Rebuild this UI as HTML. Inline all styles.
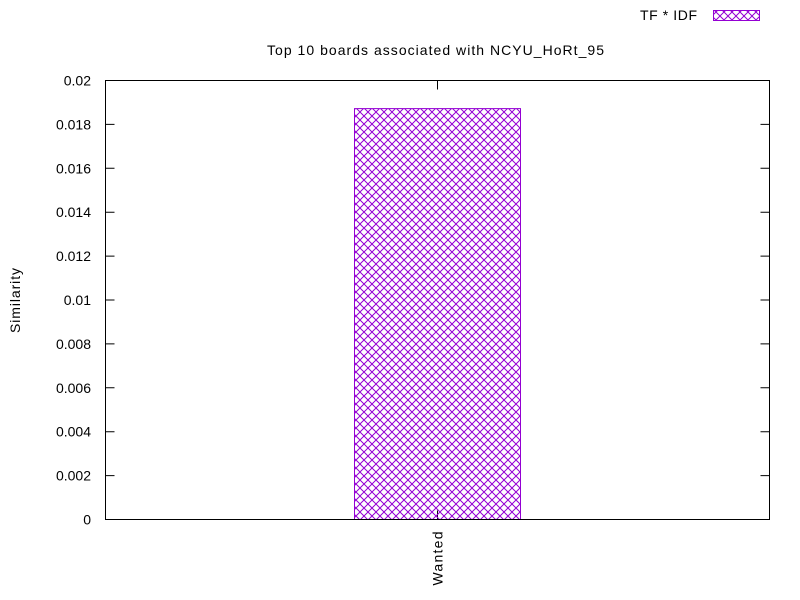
<!DOCTYPE html>
<html><head><meta charset="utf-8"><style>
body{margin:0;background:#fff}
svg{display:block;font-family:"Liberation Sans",sans-serif;font-size:14px}
</style></head><body>
<svg id="chart" width="800" height="600">
<defs>
<pattern id="hatch" width="8" height="8" patternUnits="userSpaceOnUse">
<path d="M0,0 L8,8 M8,0 L0,8" stroke="#9400d3" stroke-width="1" fill="none"/>
</pattern>
</defs>
<text x="267" y="55" textLength="337" lengthAdjust="spacing">Top 10 boards associated with NCYU_HoRt_95</text>
<text transform="translate(20,333) rotate(-90)" textLength="65" lengthAdjust="spacing">Similarity</text>
<text x="640" y="20" textLength="57" lengthAdjust="spacing">TF * IDF</text>
<rect x="713.5" y="10.5" width="46" height="10" fill="url(#hatch)" stroke="#9400d3"/>
<g id="axes"></g>
<g id="bars"></g>
<rect x="105.5" y="80.5" width="664" height="439" fill="none" stroke="#000"/>
</svg>
<script>
const categories = ["Wanted"];
const values = [0.01872];
const yTicks = [0, 0.002, 0.004, 0.006, 0.008, 0.01, 0.012, 0.014, 0.016, 0.018, 0.02];
const yTickLabels = ["0","0.002","0.004","0.006","0.008","0.01","0.012","0.014","0.016","0.018","0.02"];

const NS = "http://www.w3.org/2000/svg";
const L = 105.5, R = 769.5, T = 80.5, B = 519.5;
const yMax = 0.02;
function y(v){ return B - v / yMax * (B - T); }
function xc(i){ return L + (R - L) * (i + 0.5) / categories.length; }
const barW = 166;
const axes = document.getElementById("axes");
const bars = document.getElementById("bars");

yTicks.forEach((t, i) => {
  const p = document.createElementNS(NS, "path");
  p.setAttribute("d", `M${L},${y(t)} h9 M${R},${y(t)} h-9`);
  p.setAttribute("stroke", "#000");
  
  
  axes.appendChild(p);
  const tx = document.createElementNS(NS, "text");
  tx.setAttribute("x", 91);
  tx.setAttribute("y", y(t) + 5);
  tx.setAttribute("text-anchor", "end");
  tx.textContent = yTickLabels[i];
  
  
  axes.appendChild(tx);
});

categories.forEach((c, i) => {
  const cx = xc(i);
  const tk = document.createElementNS(NS, "path");
  tk.setAttribute("d", `M${cx},${B} v-9 M${cx},${T} v9`);
  tk.setAttribute("stroke", "#000");
  
  
  axes.appendChild(tk);
  const lb = document.createElementNS(NS, "text");
  lb.setAttribute("transform", `translate(${cx + 5},${B + 66}) rotate(-90)`);
  lb.setAttribute("textLength", "54");
  lb.setAttribute("lengthAdjust", "spacing");
  lb.textContent = c;
  
  
  axes.appendChild(lb);
  const r = document.createElementNS(NS, "rect");
  r.setAttribute("x", cx - barW / 2);
  r.setAttribute("y", y(values[i]));
  r.setAttribute("width", barW);
  r.setAttribute("height", B - y(values[i]));
  r.setAttribute("fill", "url(#hatch)");
  r.setAttribute("stroke", "#9400d3");
  
  
  bars.appendChild(r);
});
</script>
</body></html>
